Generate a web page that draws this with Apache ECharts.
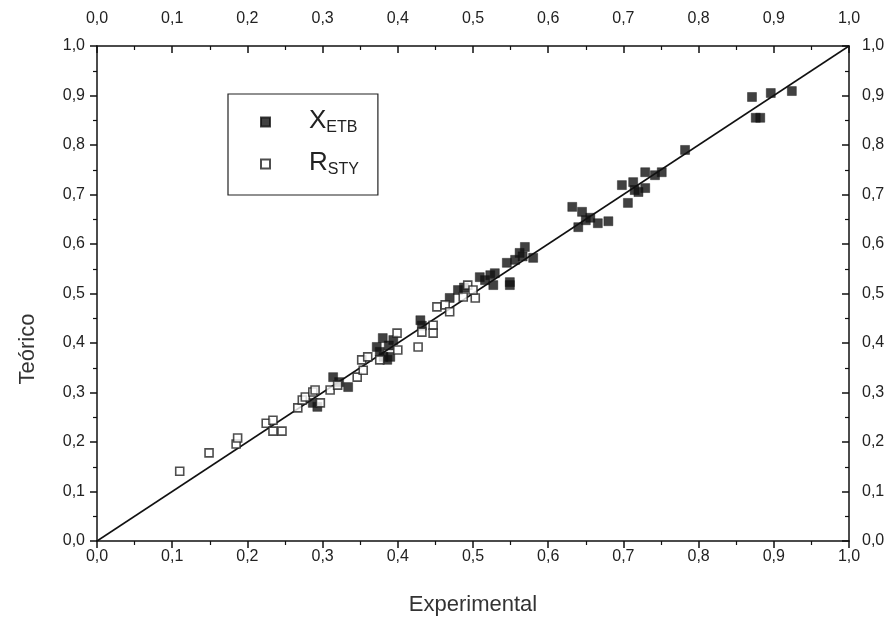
<!DOCTYPE html>
<html>
<head>
<meta charset="utf-8">
<script src="https://cdn.jsdelivr.net/npm/echarts@6/dist/echarts.min.js"></script>
<style>
  html, body { margin: 0; padding: 0; background: #fff; }
  #chart { width: 893px; height: 618px; }
</style>
</head>
<body>
<div id="chart"></div>
<script>
// Conversion X_ETB: [experimental, theoretical]
const xEtb = [
  [0.287, 0.279], [0.293, 0.271], [0.314, 0.331], [0.334, 0.311], [0.322, 0.321],
  [0.372, 0.392], [0.380, 0.410], [0.386, 0.366], [0.390, 0.372], [0.394, 0.406],
  [0.381, 0.372], [0.376, 0.382], [0.388, 0.395],
  [0.430, 0.446], [0.432, 0.435],
  [0.469, 0.491], [0.480, 0.507], [0.488, 0.512],
  [0.509, 0.533], [0.516, 0.527], [0.523, 0.537], [0.527, 0.517], [0.529, 0.541],
  [0.549, 0.523], [0.549, 0.517], [0.545, 0.562], [0.556, 0.568], [0.562, 0.582],
  [0.569, 0.594], [0.580, 0.572], [0.566, 0.575],
  [0.632, 0.675], [0.640, 0.634], [0.645, 0.665], [0.656, 0.653], [0.666, 0.642],
  [0.680, 0.646], [0.650, 0.648],
  [0.698, 0.719], [0.706, 0.683], [0.713, 0.725], [0.715, 0.709], [0.729, 0.713],
  [0.729, 0.745], [0.742, 0.739], [0.751, 0.745], [0.720, 0.705],
  [0.782, 0.790],
  [0.871, 0.897], [0.876, 0.855], [0.882, 0.855], [0.896, 0.905], [0.924, 0.909]
];

// Selectivity R_STY: [experimental, theoretical]
const rSty = [
  [0.110, 0.141], [0.149, 0.178], [0.185, 0.196], [0.187, 0.208], [0.225, 0.238],
  [0.234, 0.244], [0.234, 0.222], [0.246, 0.222], [0.267, 0.269], [0.273, 0.285],
  [0.277, 0.291], [0.287, 0.301], [0.290, 0.305], [0.297, 0.279], [0.310, 0.305],
  [0.320, 0.315], [0.346, 0.331], [0.352, 0.366], [0.360, 0.372], [0.354, 0.345],
  [0.376, 0.366], [0.399, 0.420], [0.400, 0.386], [0.427, 0.392], [0.432, 0.422],
  [0.447, 0.436], [0.447, 0.420], [0.452, 0.473], [0.463, 0.477], [0.469, 0.463],
  [0.487, 0.493], [0.493, 0.517], [0.503, 0.491], [0.500, 0.507]
];

// Perfect-agreement diagonal
const diagonal = [[0, 0], [1, 1]];

const axisMin = 0, axisMax = 1, axisStep = 0.1;

const fontFamily = '"Liberation Sans", Arial, sans-serif';
const fmt = v => v.toFixed(1).replace('.', ',');

function makeAxis(position, inside, margin) {
  return {
    type: 'value',
    position: position,
    min: axisMin, max: axisMax, interval: axisStep,
    axisLine: { show: true, onZero: false, lineStyle: { color: '#111', width: 1.5 } },
    axisTick: { show: true, inside: inside, length: 7, lineStyle: { color: '#111', width: 1.5 } },
    minorTick: { show: true, splitNumber: 2, length: 4, lineStyle: { color: '#111', width: 1.2 } },
    splitLine: { show: false },
    axisLabel: { show: true, formatter: fmt, fontSize: 16, color: '#222', fontFamily: fontFamily, margin: margin }
  };
}

const chart = echarts.init(document.getElementById('chart'), null, { renderer: 'canvas' });

const xBottom = makeAxis('bottom', false, 8);
xBottom.name = 'Experimental';
xBottom.nameLocation = 'middle';
xBottom.nameGap = 53;
xBottom.nameTextStyle = { fontSize: 22, color: '#333', fontFamily: fontFamily };

const option = {
  animation: false,
  backgroundColor: '#fff',
  grid: { left: 97, top: 46, width: 752, height: 495, containLabel: false, outerBoundsMode: 'none' },
  xAxis: [xBottom, makeAxis('top', true, 19)],
  yAxis: [makeAxis('left', false, 12), makeAxis('right', true, 13)],
  legend: {
    orient: 'vertical',
    left: 228, top: 94,
    padding: [14, 19, 17, 32],
    itemGap: 14,
    itemWidth: 9, itemHeight: 9,
    borderColor: '#222', borderWidth: 1.2,
    data: ['XETB', 'RSTY'],
    formatter: name => name === 'XETB' ? '{m|X}{s|ETB}' : '{m|R}{s|STY}',
    textStyle: {
      padding: [0, 0, 0, 34],
      rich: {
        m: { fontSize: 26, fontFamily: fontFamily, color: '#222', verticalAlign: 'top' },
        s: { fontSize: 16, fontFamily: fontFamily, color: '#222', verticalAlign: 'bottom', padding: [12, 0, 0, 0] }
      }
    }
  },
  graphic: [{
    type: 'text',
    x: 28, y: 349,
    rotation: Math.PI / 2,
    style: { text: 'Teórico', fontSize: 22, fill: '#333', fontFamily: fontFamily, align: 'center', verticalAlign: 'middle' }
  }],
  series: [
    {
      type: 'line',
      data: diagonal,
      symbol: 'none',
      lineStyle: { color: '#111', width: 1.5 },
      silent: true,
      z: 1
    },
    {
      name: 'XETB',
      type: 'scatter',
      data: xEtb,
      symbol: 'rect',
      symbolSize: 9,
      itemStyle: { color: '#111', borderColor: '#111', borderWidth: 0.5 },
      z: 2
    },
    {
      name: 'RSTY',
      type: 'scatter',
      data: rSty,
      symbol: 'rect',
      symbolSize: 8,
      itemStyle: { color: '#fff', borderColor: '#222', borderWidth: 1.6 },
      z: 3
    }
  ]
};

chart.setOption(option);
</script>
</body>
</html>
